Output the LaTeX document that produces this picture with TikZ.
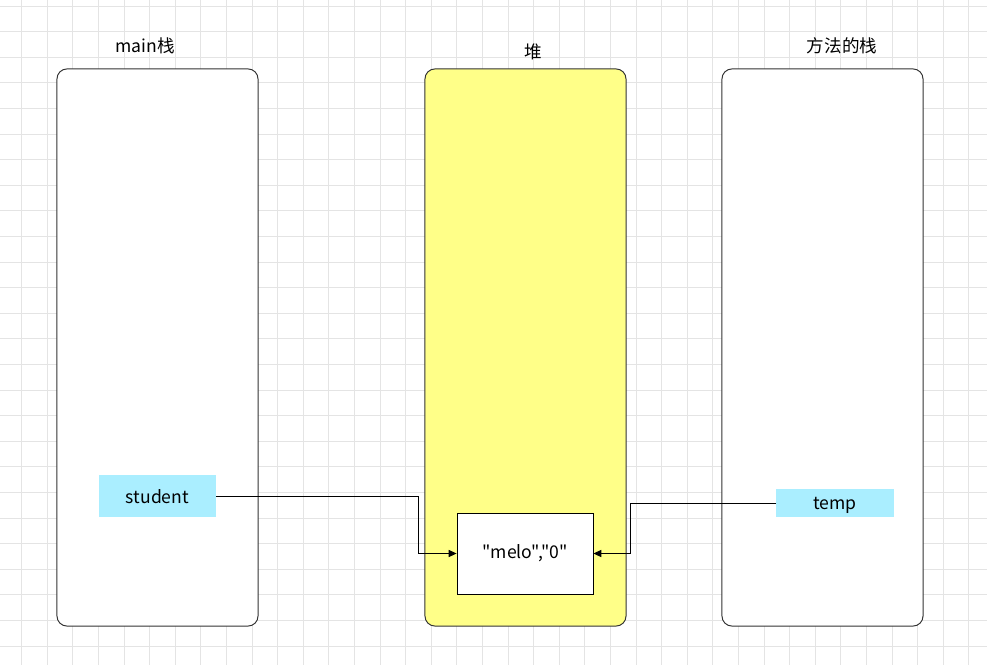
\documentclass[tikz,border=0pt]{standalone}
\usepackage{fontspec}
\setmainfont{Noto Sans CJK SC}[Ligatures=TeXOff]
\usepackage{tikz}
\usetikzlibrary{arrows.meta,positioning}
\definecolor{heapyellow}{RGB}{255,255,136}
\definecolor{refcyan}{RGB}{170,238,255}
\definecolor{gridgray}{RGB}{228,228,228}
\definecolor{edgegray}{RGB}{51,51,51}

\begin{document}
\begin{tikzpicture}[
  x=0.025cm,y=-0.025cm,
  font=\fontsize{12.5}{15}\selectfont,
  pilha/.style={draw=edgegray,line width=0.7pt,rounded corners=0.25cm,minimum width=5.025cm,minimum height=13.925cm,inner sep=0pt},
  ref/.style={fill=refcyan,draw=none,minimum width=2.925cm,inner sep=0pt,text depth=0pt},
  objeto/.style={draw=black,fill=white,line width=0.6pt,minimum width=3.4cm,minimum height=2.025cm,inner sep=0pt},
  titulo/.style={inner sep=0pt},
  seta/.style={-{Triangle[length=2mm,width=1.8mm]},line width=0.7pt},
  gridline/.style={draw=gridgray,line width=0.6pt}
]
\useasboundingbox (0,0) rectangle (987,665);
\fill[white] (0,0) rectangle (987,665);
% grade de fundo
\foreach \gx in {0,...,37} \draw[gridline] ({21.7+25.6*\gx},0) -- ({21.7+25.6*\gx},665);
\foreach \gy in {0,...,25} \draw[gridline] (0,{6+25.6*\gy}) -- (987,{6+25.6*\gy});

\node[pilha,fill=white] (mainstack) at (157.5,347.5) {};
\node[pilha,fill=heapyellow] (heap) at (525.5,347.5) {};
\node[pilha,fill=white] (methodstack) at (822.5,347.5) {};

\node[titulo] (tmain) at (145,46) {main栈};
\node[titulo] (theap) at (533,52) {堆};
\node[titulo] (tmethod) at (842,46) {方法的栈};

\node[ref,minimum height=1.05cm] (student) at (157.5,496) {student};
\node[ref,minimum height=0.7cm] (temp) at (835,503) {temp};
\node[objeto] (melo) at (525,553.5) {"melo","0"};

\draw[seta] (student.east) -- ++(202,0) |- (melo.west);
\draw[seta] (temp.west) -- ++(-146,0) |- (melo.east);
\end{tikzpicture}
\end{document}
